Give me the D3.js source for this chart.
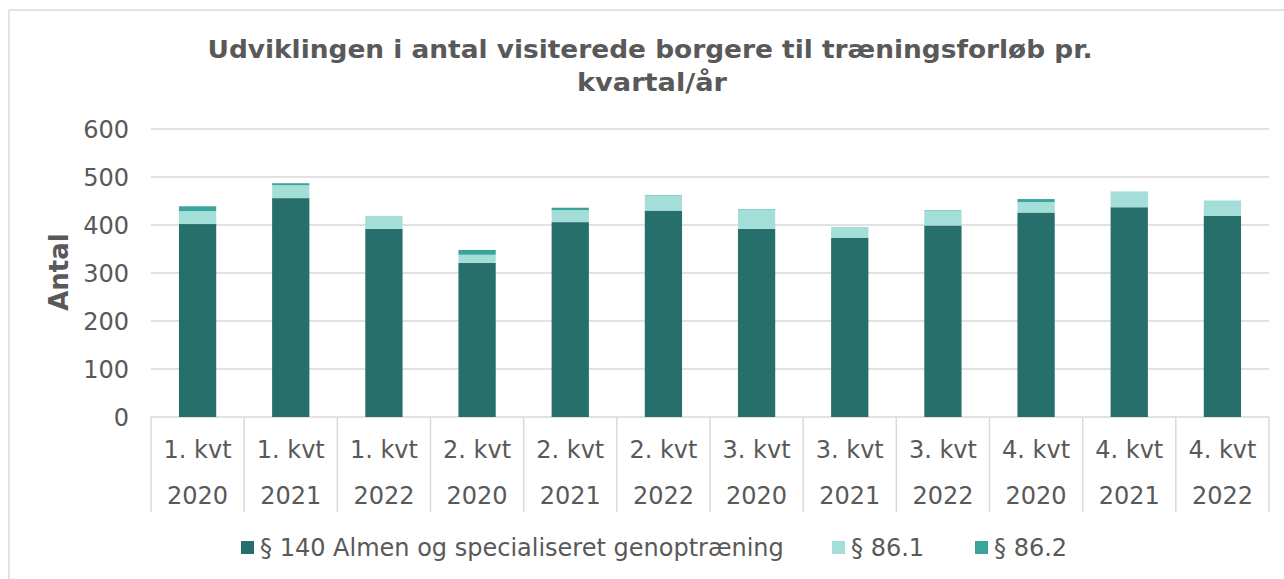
<!DOCTYPE html>
<html>
<head>
<meta charset="utf-8">
<script src="https://cdn.jsdelivr.net/npm/d3@7"></script>
<style>
  html, body { margin: 0; padding: 0; background: #fff; }
  svg { display: block; font-family: "DejaVu Sans", Verdana, sans-serif; }
</style>
</head>
<body>
<svg id="chart" width="1284" height="579"></svg>
<script>
// ---- Data ----
const quarters = ["1. kvt", "1. kvt", "1. kvt", "2. kvt", "2. kvt", "2. kvt", "3. kvt", "3. kvt", "3. kvt", "4. kvt", "4. kvt", "4. kvt"];
const years    = ["2020", "2021", "2022", "2020", "2021", "2022", "2020", "2021", "2022", "2020", "2021", "2022"];
const seriesNames = ["§ 140 Almen og specialiseret genoptræning", "§ 86.1", "§ 86.2"];
const s140  = [402, 456, 392, 321, 406, 430, 392, 373, 399, 426, 437, 419];
const s861  = [27, 27, 27, 17, 25, 31, 40, 23, 31, 22, 33, 32];
const s862  = [10, 4, 0, 10, 5, 1, 1, 0, 1, 6, 0, 0];
const yTicks = [0, 100, 200, 300, 400, 500, 600];
const colors = ["#276F6A", "#A3DED9", "#3AA39C"];
const titleLines = ["Udviklingen i antal visiterede borgere til træningsforløb pr.", "kvartal/år"];
const yAxisTitle = "Antal";

(function () {
// ---- Layout ----
const svg = d3.select("#chart");
const pL = 151, pR = 1269, pT = 129, pB = 417;
const textColor = "#595959", gridColor = "#D9D9D9";
const fs = 24;

// outer border (top & left visible)
svg.append("line").attr("x1", 9).attr("x2", 1284).attr("y1", 10).attr("y2", 10)
  .attr("stroke", gridColor).attr("stroke-width", 1.5);
svg.append("line").attr("x1", 9).attr("x2", 9).attr("y1", 10).attr("y2", 579)
  .attr("stroke", gridColor).attr("stroke-width", 1.5);

const keys = quarters.map((q, i) => i);
const x = d3.scaleBand().domain(keys).range([pL, pR]).paddingInner(0.6).paddingOuter(0.3);
const xOuter = d3.scaleBand().domain(keys).range([pL, pR]);
const y = d3.scaleLinear().domain([0, 600]).range([pB, pT]);

// gridlines
svg.append("g").selectAll("line").data(yTicks).join("line")
  .attr("x1", pL).attr("x2", pR)
  .attr("y1", d => y(d)).attr("y2", d => y(d))
  .attr("stroke", gridColor).attr("stroke-width", 1.5);

// y tick labels
const yAxis = d3.axisLeft(y).tickValues(yTicks).tickSize(0).tickPadding(0);
const yg = svg.append("g").attr("transform", `translate(${pL - 22},0)`).call(yAxis);
yg.select(".domain").remove();
yg.selectAll("text").attr("font-size", fs).attr("fill", textColor)
  .attr("font-family", "DejaVu Sans, Verdana, sans-serif").attr("dy", "0.36em");

// stacked bars
const rows = keys.map(i => ({ i, a: s140[i], b: s861[i], c: s862[i] }));
const stack = d3.stack().keys(["a", "b", "c"])(rows);
svg.append("g").selectAll("g").data(stack).join("g")
  .attr("fill", (d, k) => colors[k])
  .selectAll("rect").data(d => d).join("rect")
  .attr("x", d => x(d.data.i))
  .attr("width", x.bandwidth())
  .attr("y", d => y(d[1]))
  .attr("height", d => Math.max(0, y(d[0]) - y(d[1])));

// category axis dividers
const divs = keys.map(i => xOuter(i)).concat([pR]);
svg.append("g").selectAll("line").data(divs).join("line")
  .attr("x1", d => d).attr("x2", d => d)
  .attr("y1", pB).attr("y2", 512)
  .attr("stroke", gridColor).attr("stroke-width", 1.5);

// category labels
const cx = i => xOuter(i) + xOuter.bandwidth() / 2;
svg.append("g").selectAll("text").data(keys).join("text")
  .attr("x", cx).attr("y", 458).attr("text-anchor", "middle")
  .attr("font-size", fs).attr("fill", textColor).text(i => quarters[i]);
svg.append("g").selectAll("text").data(keys).join("text")
  .attr("x", cx).attr("y", 504).attr("text-anchor", "middle")
  .attr("font-size", fs).attr("fill", textColor).text(i => years[i]);

// y axis title
svg.append("text")
  .attr("transform", "translate(68,272) rotate(-90)")
  .attr("text-anchor", "middle")
  .attr("font-size", 26).attr("font-weight", "bold").attr("fill", textColor)
  .text(yAxisTitle);

// title
svg.append("text").attr("x", 650).attr("y", 58).attr("text-anchor", "middle")
  .attr("font-size", 24).attr("font-weight", "bold").attr("fill", textColor)
  .attr("textLength", 885).attr("lengthAdjust", "spacingAndGlyphs")
  .text(titleLines[0]);
svg.append("text").attr("x", 652).attr("y", 91).attr("text-anchor", "middle")
  .attr("font-size", 24).attr("font-weight", "bold").attr("fill", textColor)
  .attr("textLength", 150).attr("lengthAdjust", "spacingAndGlyphs")
  .text(titleLines[1]);

// legend
const legendX = [241, 832, 975];
const lg = svg.append("g").selectAll("g").data(seriesNames).join("g")
  .attr("transform", (d, k) => `translate(${legendX[k]},0)`);
lg.append("rect").attr("x", 0).attr("y", 541).attr("width", 13).attr("height", 13)
  .attr("fill", (d, k) => colors[k]);
lg.append("text").attr("x", 19).attr("y", 556)
  .attr("font-size", fs).attr("fill", textColor).text(d => d);
})();
</script>
</body>
</html>
